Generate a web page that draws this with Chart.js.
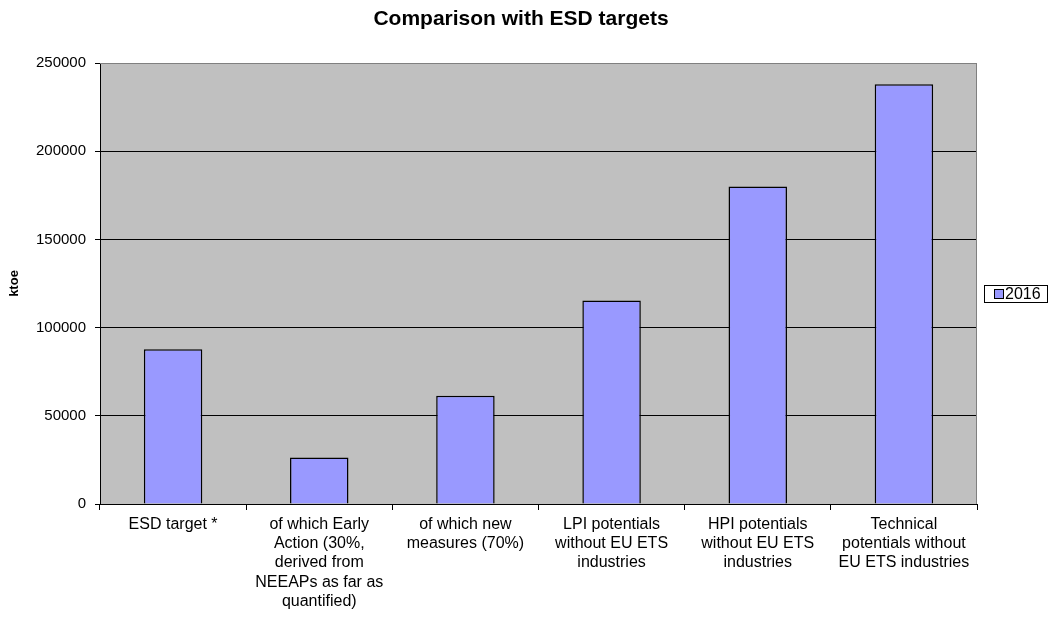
<!DOCTYPE html>
<html>
<head>
<meta charset="utf-8">
<title>Comparison with ESD targets</title>
<script src="https://cdn.jsdelivr.net/npm/chart.js@4/dist/chart.umd.min.js"></script>
<style>
  html, body { margin: 0; padding: 0; background: #fff; }
  #wrap { width: 1050px; height: 618px; }
</style>
</head>
<body>
<div id="wrap"><canvas id="chart" width="1050" height="618"></canvas></div>
<script>
// Werte in ktoe, Jahr 2016
const chartTitle = 'Comparison with ESD targets';
const categories = [
    ['ESD target *'],
    ['of which Early', 'Action (30%,', 'derived from', 'NEEAPs as far as', 'quantified)'],
    ['of which new', 'measures (70%)'],
    ['LPI potentials', 'without EU ETS', 'industries'],
    ['HPI potentials', 'without EU ETS', 'industries'],
    ['Technical', 'potentials without', 'EU ETS industries']
];
const seriesName = '2016';
const values2016 = [87700, 26300, 61400, 115300, 180000, 238000];
const yTicks = [0, 50000, 100000, 150000, 200000, 250000];

const FONT = "'Liberation Sans', Arial, sans-serif";

// grauer Plotbereich + Rahmen oben/rechts
const plotArea = {
    id: 'plotArea',
    beforeDraw(chart) {
        const a = chart.chartArea;
        const c = chart.ctx;
        c.save();
        c.fillStyle = '#c0c0c0';
        c.fillRect(a.left, a.top, a.right - a.left, a.bottom - a.top);
        c.restore();
    },
    afterDatasetsDraw(chart) {
        const a = chart.chartArea;
        const c = chart.ctx;
        c.save();
        c.strokeStyle = '#808080';
        c.lineWidth = 1;
        c.beginPath();
        c.moveTo(a.left, a.top + 0.5);
        c.lineTo(a.right - 0.5, a.top + 0.5);
        c.lineTo(a.right - 0.5, a.bottom);
        c.stroke();
        c.restore();
    }
};

// Titel mittig über die ganze Fläche
const centerTitle = {
    id: 'centerTitle',
    afterDraw(chart) {
        const c = chart.ctx;
        c.save();
        c.fillStyle = '#000';
        c.font = 'bold 21px ' + FONT;
        c.textAlign = 'center';
        c.textBaseline = 'middle';
        c.fillText(chartTitle, 521, 19);
        c.restore();
    }
};

// Legende mit Rahmen rechts neben dem Diagramm
const boxLegend = {
    id: 'boxLegend',
    afterDraw(chart) {
        const c = chart.ctx;
        const ds = chart.data.datasets[0];
        const x = 984, y = 285, w = 63, h = 17;
        c.save();
        c.fillStyle = '#fff';
        c.fillRect(x, y, w, h);
        c.strokeStyle = '#000';
        c.lineWidth = 1;
        c.strokeRect(x + 0.5, y + 0.5, w, h);
        c.fillStyle = ds.backgroundColor;
        c.fillRect(x + 10, y + 4, 9, 9);
        c.strokeRect(x + 10.5, y + 4.5, 9, 9);
        c.fillStyle = '#000';
        c.font = '16px ' + FONT;
        c.textBaseline = 'middle';
        c.fillText(ds.label, x + 21, y + h / 2 + 1);
        c.restore();
    }
};

const ctx = document.getElementById('chart').getContext('2d');
const chart = new Chart(ctx, {
    type: 'bar',
    data: {
        labels: categories,
        datasets: [{
            label: seriesName,
            data: values2016,
            backgroundColor: '#9999ff',
            borderColor: '#000',
            borderWidth: 1.5,
            categoryPercentage: 1.0,
            barPercentage: 0.4
        }]
    },
    options: {
        responsive: false,
        animation: false,
        layout: { padding: { left: 0, right: 73, top: 63, bottom: 0 } },
        plugins: {
            legend: { display: false },
            tooltip: { enabled: false },
            title: { display: false }
        },
        scales: {
            x: {
                afterFit(scale) { scale.height = 114; },
                grid: {
                    display: true,
                    offset: true,
                    drawOnChartArea: false,
                    tickLength: 6,
                    color: '#000'
                },
                border: { display: true, color: '#000' },
                ticks: {
                    color: '#000',
                    autoSkip: false,
                    maxRotation: 0,
                    minRotation: 0,
                    padding: 5,
                    font: { family: FONT, size: 16, lineHeight: 1.2 }
                }
            },
            y: {
                min: 0,
                max: 250000,
                afterFit(scale) { scale.width = 100; },
                afterBuildTicks(scale) { scale.ticks = yTicks.map(v => ({ value: v })); },
                grid: {
                    color: c => c.tick && c.tick.value === 250000 ? '#808080' : '#000',
                    tickColor: '#000',
                    tickLength: 5
                },
                border: { display: true, color: '#000' },
                ticks: {
                    color: '#000',
                    padding: 9,
                    font: { family: FONT, size: 15 },
                    callback: v => String(v)
                },
                title: {
                    display: true,
                    text: 'ktoe',
                    color: '#000',
                    font: { family: FONT, size: 13, weight: 'bold' },
                    padding: { top: 7, bottom: 0 }
                }
            }
        }
    },
    plugins: [plotArea, centerTitle, boxLegend]
});
</script>
</body>
</html>
